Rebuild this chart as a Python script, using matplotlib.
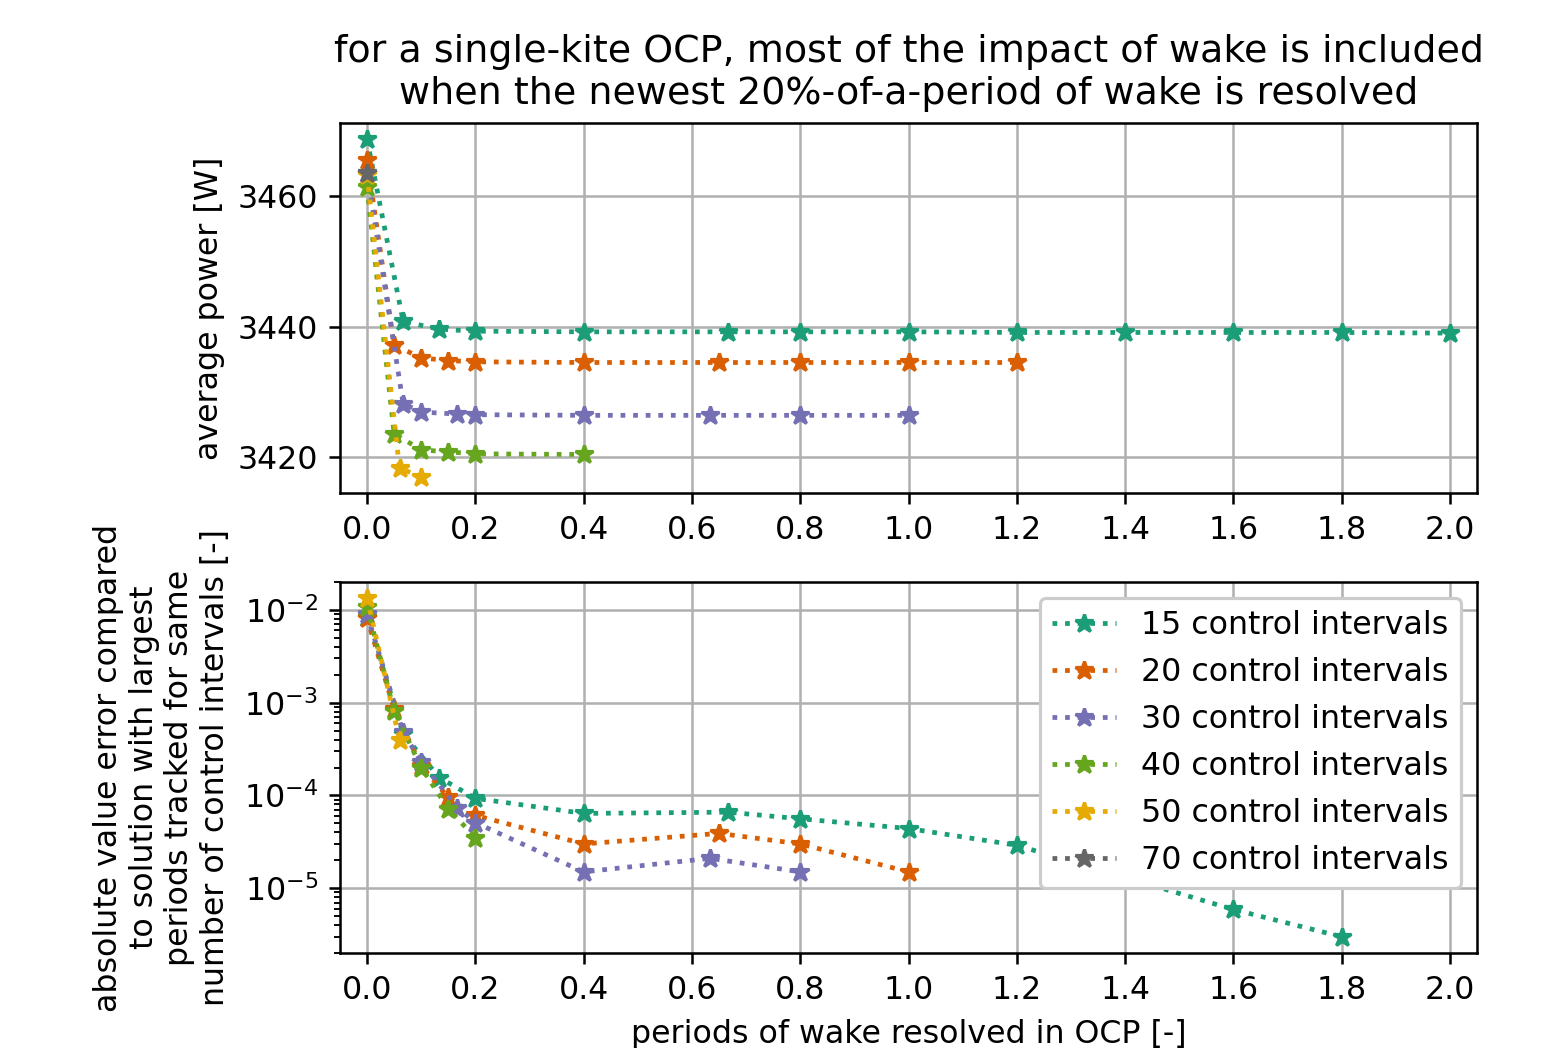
import matplotlib
matplotlib.use("Agg")
import matplotlib.pyplot as plt

# colours (Dark2)
colors = ["#1b9e77", "#d95f02", "#7570b3", "#66a61e", "#e6ab02", "#666666"]
labels = ["15 control intervals", "20 control intervals", "30 control intervals",
          "40 control intervals", "50 control intervals", "70 control intervals"]

# periods of wake resolved
x15 = [0.0, 1/15, 2/15, 0.2, 0.4, 2/3, 0.8, 1.0, 1.2, 1.4, 1.6, 1.8, 2.0]
x20 = [0.0, 0.05, 0.1, 0.15, 0.2, 0.4, 0.65, 0.8, 1.0, 1.2]
x30 = [0.0, 1/15, 0.1, 1/6, 0.2, 0.4, 19/30, 0.8, 1.0]
x40 = [0.0, 0.05, 0.1, 0.15, 0.2, 0.4]
x50 = [0.0, 0.06, 0.1]
x70 = [0.0]

# average power [W]
p15 = [3468.7, 3440.8, 3439.6, 3439.3, 3439.2, 3439.2, 3439.2, 3439.2, 3439.1, 3439.1, 3439.1, 3439.1, 3439.0]
p20 = [3465.5, 3437.2, 3435.2, 3434.8, 3434.6, 3434.5, 3434.5, 3434.5, 3434.5, 3434.5]
p30 = [3463.6, 3428.2, 3426.9, 3426.6, 3426.5, 3426.4, 3426.4, 3426.4, 3426.4]
p40 = [3461.4, 3423.6, 3421.1, 3420.8, 3420.5, 3420.4]
p50 = [3463.3, 3418.3, 3417.0]
p70 = [3463.5]

# error compared to the solution with the largest periods tracked
xe15 = [0.0, 1/15, 2/15, 0.2, 0.4, 2/3, 0.8, 1.0, 1.2, 1.6, 1.8]
xe20 = x20[:-1]
xe30 = x30[:-1]
xe40 = x40[:-1]
xe50 = [0.0, 0.06]
xe70 = []
e15 = [8.4e-3, 4.6e-4, 1.56e-4, 9.3e-5, 6.4e-5, 6.6e-5, 5.6e-5, 4.4e-5, 2.9e-5, 5.9e-6, 3.0e-6]
e20 = [8.2e-3, 8.5e-4, 2.1e-4, 9.5e-5, 6.1e-5, 3.0e-5, 3.9e-5, 3.0e-5, 1.5e-5]
e30 = [9.0e-3, 4.8e-4, 2.3e-4, 7.4e-5, 5.1e-5, 1.5e-5, 2.1e-5, 1.5e-5]
e40 = [1.07e-2, 8.2e-4, 2.0e-4, 7.2e-5, 3.5e-5]
e50 = [1.35e-2, 4.0e-4]
e70 = []

xs = [x15, x20, x30, x40, x50, x70]
ps = [p15, p20, p30, p40, p50, p70]
xes = [xe15, xe20, xe30, xe40, xe50, xe70]
es = [e15, e20, e30, e40, e50, e70]

fig = plt.figure(figsize=(1546/228, 1048/228), dpi=228)
ax1 = fig.add_axes([0.2199, 0.5296, 0.7355, 0.353])
ax2 = fig.add_axes([0.2199, 0.0906, 0.7355, 0.3541])

for i in range(6):
    ax1.plot(xs[i], ps[i], linestyle=':', marker='*', color=colors[i], label=labels[i])
    ax2.plot(xes[i], es[i], linestyle=':', marker='*', color=colors[i], label=labels[i])

ax1.set_xlim(-0.05, 2.05)
ax1.set_ylim(3414.5, 3471.2)
ax1.set_yticks([3420, 3440, 3460])
ax1.set_xticks([0.0, 0.2, 0.4, 0.6, 0.8, 1.0, 1.2, 1.4, 1.6, 1.8, 2.0])
ax1.set_ylabel("average power [W]")
ax1.grid(True)
ax1.set_title("for a single-kite OCP, most of the impact of wake is included\n"
              "when the newest 20%-of-a-period of wake is resolved")

ax2.set_yscale('log')
ax2.set_xlim(-0.05, 2.05)
ax2.set_ylim(2e-6, 2e-2)
ax2.set_xticks([0.0, 0.2, 0.4, 0.6, 0.8, 1.0, 1.2, 1.4, 1.6, 1.8, 2.0])
ax2.set_ylabel("absolute value error compared\nto solution with largest\n"
               "periods tracked for same\nnumber of control intervals [-]")
ax2.set_xlabel("periods of wake resolved in OCP [-]")
ax2.grid(True)
ax2.legend(loc='upper right', framealpha=1.0)

fig.savefig("out.png", dpi=228)
